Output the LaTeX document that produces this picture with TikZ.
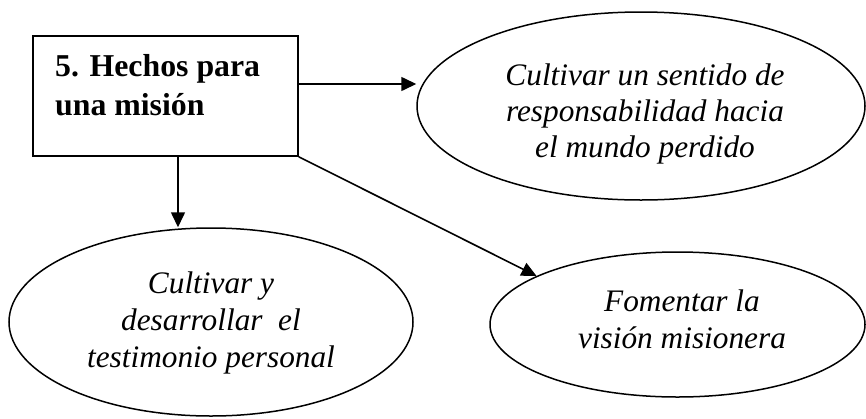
\documentclass[tikz,border=0pt]{standalone}
\usepackage{fontspec}
\setmainfont{Liberation Serif}
\usetikzlibrary{arrows.meta,shapes.geometric}
\newcommand{\topst}{\rule{0pt}{27pt}}
\newcommand{\botst}{\rule[-10pt]{0pt}{10pt}}
\begin{document}
\begin{tikzpicture}[x=1pt,y=-1pt,
  box/.style={draw,line width=1.6pt,rectangle,inner sep=0pt},
  oval/.style={draw,line width=1.5pt,ellipse,inner sep=0pt},
  itxt/.style={inner sep=0pt,align=center,font=\fontsize{31.3}{37}\selectfont\itshape},
  btxt/.style={inner sep=0pt,align=left,font=\fontsize{31.8}{39.5}\selectfont\bfseries},
  arr/.style={line width=1.6pt,-{Triangle[length=15pt,width=14pt]}}
]
\useasboundingbox (0,0) rectangle (866,418);

% main box
\node[box,minimum width=265pt,minimum height=120pt] (r) at (165.5,96) {};
\node[btxt,anchor=west] (rt) at (55,87.25) {\topst 5. Hechos para\\ una misión\botst};

% ellipses
\node[oval,minimum width=448pt,minimum height=188pt] (e1) at (641,106) {};
\node[itxt,font=\fontsize{31.3}{36}\selectfont\itshape] (t1) at (645,112.5)
  {\topst Cultivar un sentido de\\ responsabilidad hacia\\ el mundo perdido\botst};

\node[oval,minimum width=404pt,minimum height=188pt] (e2) at (211,322) {};
\node[itxt] (t2) at (211,321.5)
  {\topst Cultivar y\\ desarrollar\ \ el\\ testimonio personal\botst};

\node[oval,minimum width=375pt,minimum height=145pt] (e3) at (677.5,324.5) {};
\node[itxt] (t3) at (682,321)
  {\topst Fomentar la\\ visión misionera\botst};

% connectors
\coordinate (a1) at ([yshift=12pt]r.east);
\draw[arr] (a1) -- (a1 -| e1.west);
\coordinate (a2) at ([xshift=12.5pt]r.south);
\draw[arr] (a2) -- (a2 |- e2.north);
\draw[arr] (r.south east) -- (e3.161);
\end{tikzpicture}
\end{document}
